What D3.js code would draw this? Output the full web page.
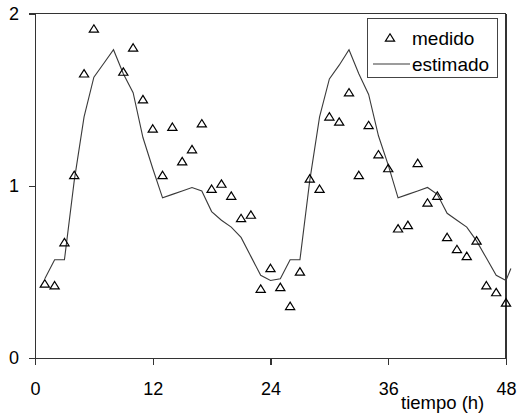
<!DOCTYPE html>
<html>
<head>
<meta charset="utf-8">
<script src="https://cdn.jsdelivr.net/npm/d3@7"></script>
<style>
  html, body { margin: 0; padding: 0; background: #fff; }
  svg { display: block; font-family: "Liberation Sans", Arial, sans-serif; }
</style>
</head>
<body>
<svg id="chart" width="518" height="414"></svg>
<script>
// ---- data ----
const measuredHours = [1,2,3,4,5,6,9,10,11,12,13,14,15,16,17,18,19,20,21,22,23,24,25,26,27,28,29,30,31,32,33,34,35,36,37,38,39,40,41,42,43,44,45,46,47,48];
const measuredValues = [0.43,0.42,0.67,1.06,1.65,1.91,1.66,1.80,1.50,1.33,1.06,1.34,1.14,1.21,1.36,0.98,1.01,0.94,0.81,0.83,0.40,0.52,0.41,0.30,0.50,1.04,0.98,1.40,1.37,1.54,1.06,1.35,1.18,1.10,0.75,0.77,1.13,0.90,0.94,0.70,0.63,0.59,0.68,0.42,0.38,0.32];
const estimatedHours = [1,2,3,4,5,6,7,8,9,10,11,12,13,14,15,16,17,18,19,20,21,22,23,24,25,26,27,28,29,30,31,32,33,34,35,36,37,38,39,40,41,42,43,44,45,46,47,48,48.5];
const estimatedValues = [0.46,0.57,0.57,1.03,1.40,1.63,1.71,1.79,1.65,1.54,1.28,1.10,0.93,0.95,0.97,0.99,0.97,0.85,0.80,0.76,0.70,0.59,0.48,0.45,0.46,0.57,0.57,1.03,1.40,1.62,1.70,1.79,1.65,1.53,1.29,1.12,0.93,0.95,0.97,0.99,0.95,0.84,0.80,0.76,0.68,0.58,0.48,0.45,0.52];
const xTicks = [0,12,24,36,48];
const yTicks = [0,1,2];
const seriesNames = ["medido","estimado"];
const xTitle = "tiempo (h)";

// ---- layout ----
const svg = d3.select("#chart");
const x = d3.scaleLinear().domain([0,48]).range([35,506]);
const y = d3.scaleLinear().domain([0,2]).range([358,13.5]);

// frame: top & right lines
svg.append("line").attr("x1", x(0)).attr("x2", x(48)).attr("y1", y(2)).attr("y2", y(2))
  .attr("stroke", "#333").attr("stroke-width", 1.2).attr("shape-rendering","crispEdges");
svg.append("line").attr("x1", x(48)).attr("x2", x(48)).attr("y1", y(2)).attr("y2", y(0))
  .attr("stroke", "#333").attr("stroke-width", 1.2).attr("shape-rendering","crispEdges");

// axes
const yAxis = d3.axisLeft(y).tickValues(yTicks).tickSize(6).tickPadding(10).tickFormat(d3.format("d"));
const xAxis = d3.axisBottom(x).tickValues(xTicks).tickSize(7).tickPadding(17).tickFormat(d3.format("d"));

const gy = svg.append("g").attr("transform", `translate(${x(0)},0)`).call(yAxis);
const gx = svg.append("g").attr("transform", `translate(0,${y(0)})`).call(xAxis);
[gx, gy].forEach(g => {
  g.select(".domain").attr("stroke", "#333").attr("stroke-width", 1.2).attr("shape-rendering","crispEdges");
  g.selectAll(".tick line").attr("stroke", "#333").attr("stroke-width", 1.2).attr("shape-rendering","crispEdges");
  g.selectAll(".tick text").attr("fill", "#000").style("font-family", '"Liberation Sans", Arial, sans-serif');
});
gx.selectAll(".tick text").style("font-size", "18px");
gy.selectAll(".tick text").style("font-size", "18px").attr("text-anchor","middle").attr("x", -21);

// x title
svg.append("text").attr("x", 401).attr("y", 409).text(xTitle)
  .style("font-size", "18.5px").attr("fill", "#000");

// estimated line
const est = estimatedHours.map((h,i) => [h, estimatedValues[i]]);
svg.append("path").datum(est)
  .attr("fill", "none").attr("stroke", "#3a3a3a").attr("stroke-width", 1.1)
  .attr("d", d3.line().x(d => x(d[0])).y(d => y(d[1])));

// measured triangles
const tri = "M0,-4.2L4.6,3.2L-4.6,3.2Z";
const meas = measuredHours.map((h,i) => [h, measuredValues[i]]);
svg.append("g").selectAll("path").data(meas).join("path")
  .attr("d", tri)
  .attr("transform", d => `translate(${x(d[0])},${y(d[1])})`)
  .attr("fill", "none").attr("stroke", "#000").attr("stroke-width", 1.2);

// legend
const lg = svg.append("g");
lg.append("rect").attr("x", 367.5).attr("y", 18.5).attr("width", 130).attr("height", 59)
  .attr("fill", "#fff").attr("stroke", "#444").attr("stroke-width", 1);
lg.append("path").attr("d", tri).attr("transform", "translate(390,38)")
  .attr("fill", "none").attr("stroke", "#000").attr("stroke-width", 1.2);
lg.append("text").attr("x", 412).attr("y", 38).attr("dy", "0.35em").text(seriesNames[0])
  .style("font-size", "19px").attr("fill", "#000");
lg.append("line").attr("x1", 373).attr("x2", 410).attr("y1", 64).attr("y2", 64)
  .attr("stroke", "#3a3a3a").attr("stroke-width", 1.1);
lg.append("text").attr("x", 412).attr("y", 64).attr("dy", "0.35em").text(seriesNames[1])
  .style("font-size", "19px").attr("fill", "#000");
</script>
</body>
</html>
